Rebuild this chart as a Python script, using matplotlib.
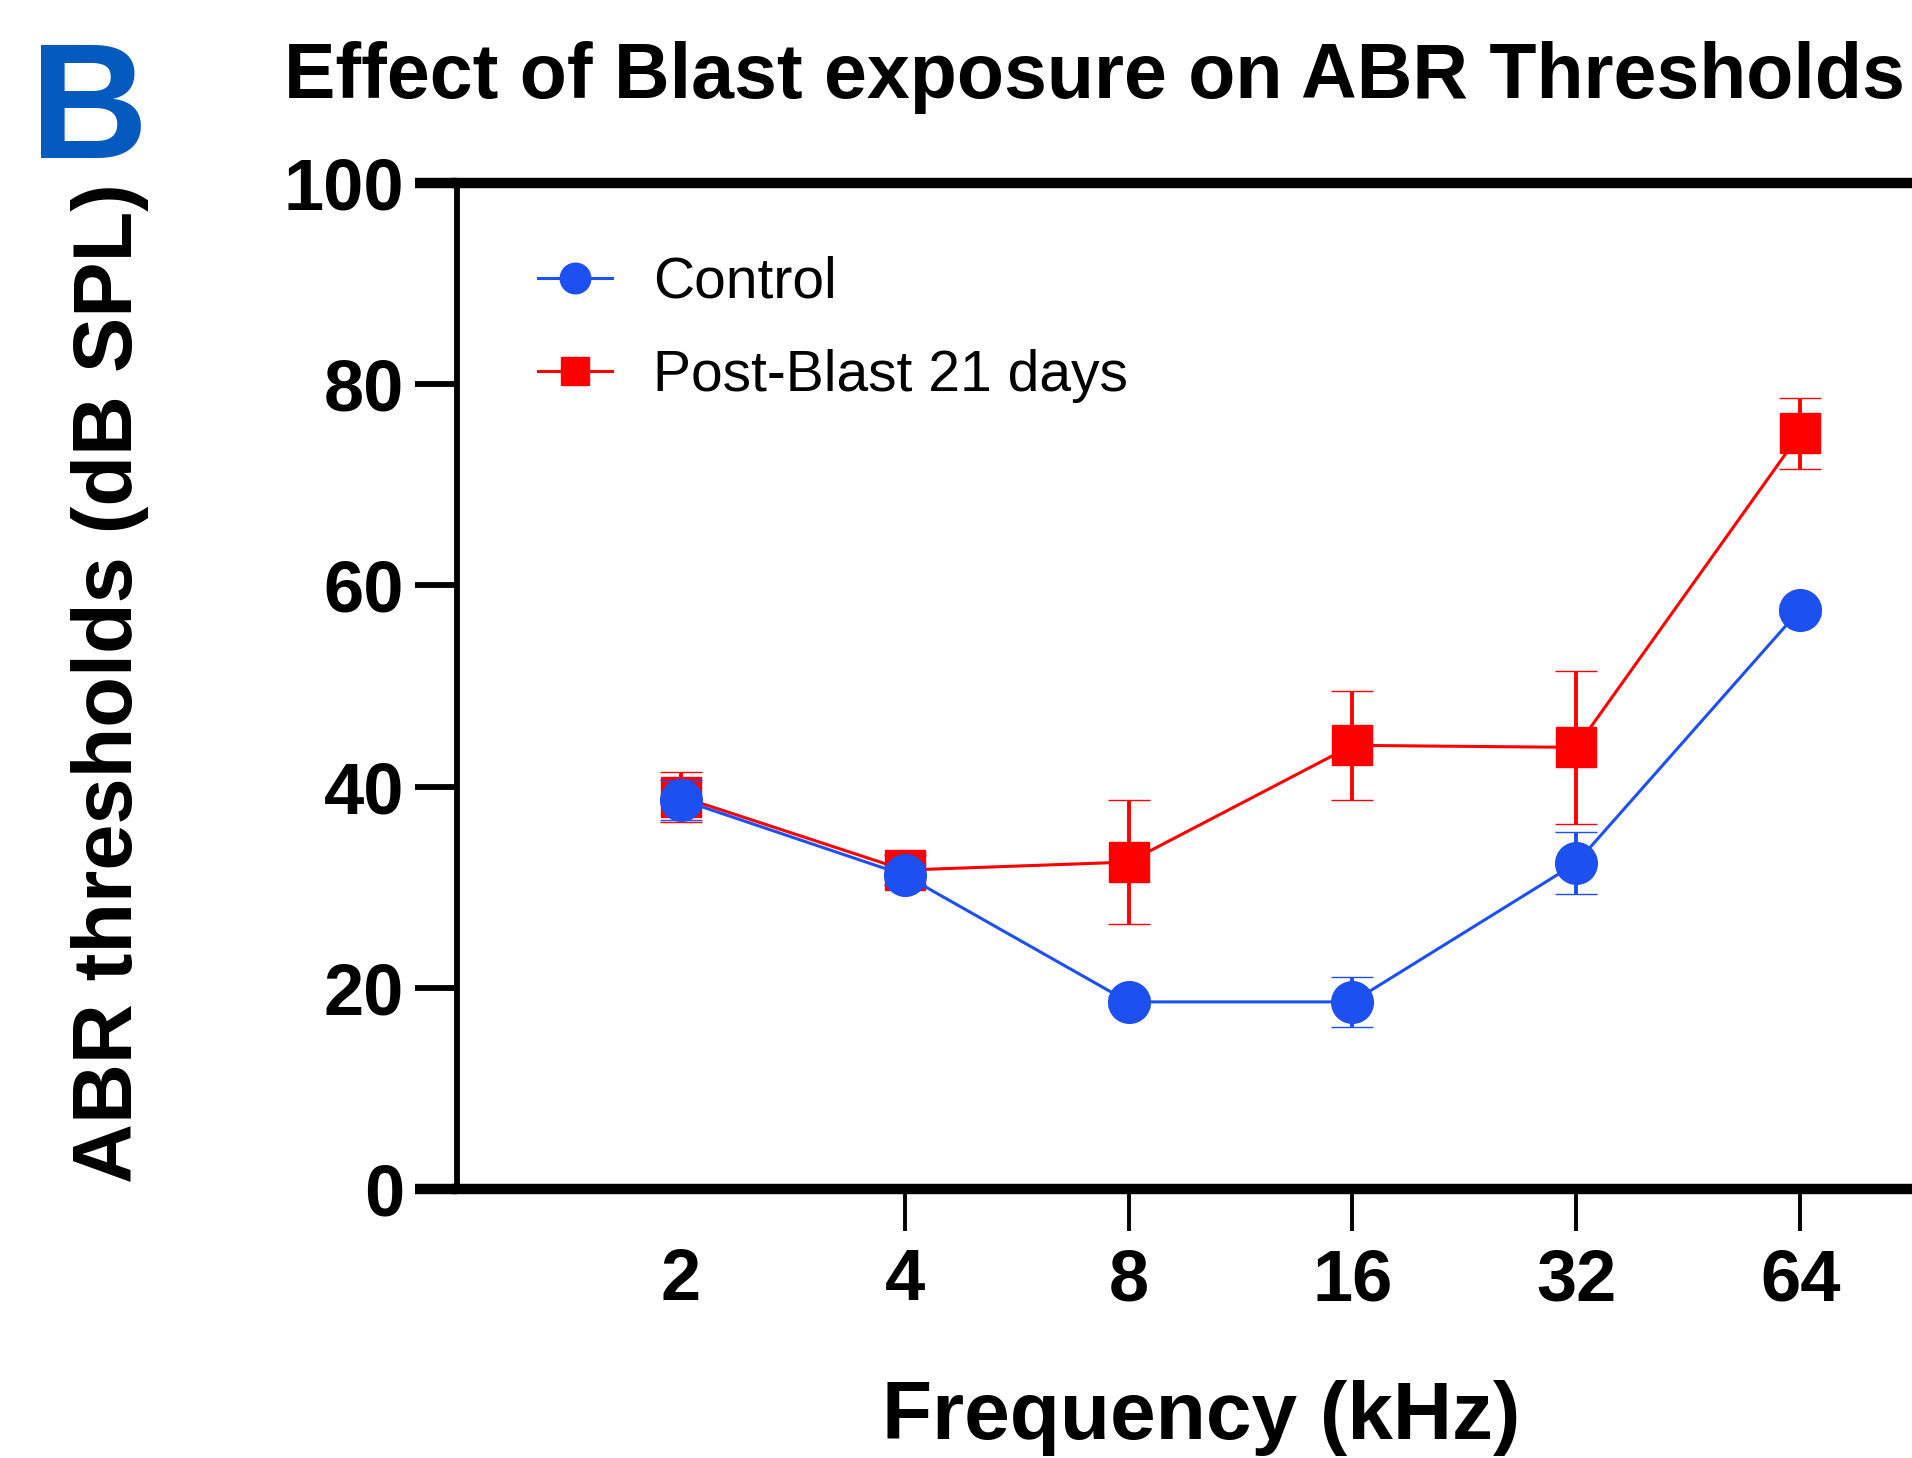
import numpy as np
import matplotlib
matplotlib.use("Agg")
import matplotlib.pyplot as plt
from matplotlib.lines import Line2D

plt.rcParams['font.family'] = ['Liberation Sans', 'DejaVu Sans']

# ABR thresholds (dB SPL), mean +/- error
freqs = [2, 4, 8, 16, 32, 64]
freq_labels = ['2', '4', '8', '16', '32', '64']
control = [38.7, 31.2, 18.6, 18.6, 32.4, 57.6]
control_err = [2.0, 1.0, 0.5, 2.5, 3.1, 0.5]
blast = [39.0, 31.7, 32.5, 44.1, 43.9, 75.1]
blast_err = [2.5, 1.5, 6.2, 5.4, 7.6, 3.5]

blue = '#1d50f0'
red = '#ff0000'

W, H = 1912, 1458
fig = plt.figure(figsize=(W / 100, H / 100), dpi=100)
# axes runs past the right edge on purpose (reference is cropped there)
ax = fig.add_axes([457 / W, 1 - 1189 / H, 1567 / W, (1189 - 183) / H])

# blast first so the control circles sit on top
ax.errorbar(freqs, blast, yerr=blast_err, color=red, marker='s', ms=29, mec=red, mew=1,
            lw=2.2, elinewidth=2.8, capsize=15, capthick=2.8, clip_on=False, zorder=3)
ax.errorbar(freqs, control, yerr=control_err, color=blue, marker='o', ms=30, mec=blue, mew=1,
            lw=2.2, elinewidth=2.8, capsize=15, capthick=2.8, clip_on=False, zorder=4)

ax.set_xscale('log', base=2)
ax.set_xlim(1, 128)
ax.set_ylim(0, 100)
ax.set_xticks(freqs)
ax.set_xticklabels(freq_labels)
ax.xaxis.set_minor_locator(plt.NullLocator())
ax.set_yticks([0, 20, 40, 60, 80, 100])

for s in ['top', 'bottom']:
    ax.spines[s].set_linewidth(7.5)
ax.spines['left'].set_linewidth(4.2)
ax.spines['right'].set_visible(False)

ax.tick_params(axis='y', length=30, width=4.2, pad=8, labelsize=52)
ax.tick_params(axis='x', length=30, width=2.8, pad=12, labelsize=52)
for lab in ax.get_xticklabels() + ax.get_yticklabels():
    lab.set_fontweight('bold')
# no tick mark at 2 kHz
ax.xaxis.get_major_ticks()[0].tick1line.set_visible(False)
# the 0 and 100 ticks are as thick as the frame lines
for t in (ax.yaxis.get_major_ticks()[0], ax.yaxis.get_major_ticks()[-1]):
    t.tick1line.set_markeredgewidth(7.5)

handles = [Line2D([], [], color=blue, marker='o', ms=22, lw=2.2),
           Line2D([], [], color=red, marker='s', ms=20, lw=2.2)]
fig.legend(handles, ['Control', 'Post-Blast 21 days'], loc='upper left',
           bbox_to_anchor=(538 / W, 1 - 256 / H), frameon=False, fontsize=41,
           handlelength=1.3, handletextpad=0.72, labelspacing=0.68,
           borderpad=0, borderaxespad=0)

fig.text(284 / W, 1 - 98 / H, 'Effect of Blast exposure on ABR Thresholds',
         fontsize=55.5, fontweight='bold', va='baseline', ha='left')
fig.text(110 / W, 1 - 683 / H, 'ABR thresholds (dB SPL)', fontsize=59.8,
         fontweight='bold', rotation=90, ha='center', va='center')
fig.text(1201 / W, 1 - 1439 / H, 'Frequency (kHz)', fontsize=59,
         fontweight='bold', ha='center', va='baseline')
fig.text(30 / W, 1 - 158 / H, 'B', fontsize=118, fontweight='bold',
         color='#055ac0', ha='left', va='baseline')

fig.savefig('out.png', dpi=100)
